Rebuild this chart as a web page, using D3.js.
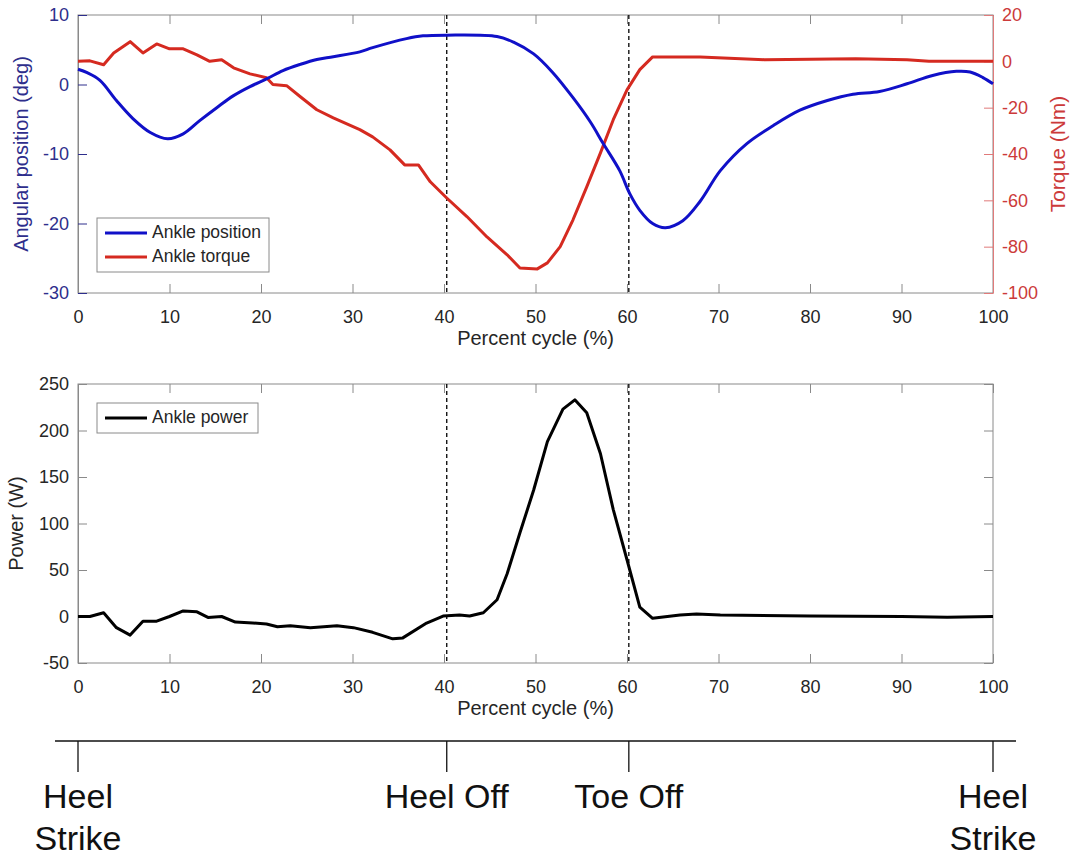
<!DOCTYPE html>
<html>
<head>
<meta charset="utf-8">
<script src="https://cdn.jsdelivr.net/npm/d3@7"></script>
<style>
  body { margin: 0; background: #ffffff; }
  text { font-family: "Liberation Sans", Arial, sans-serif; }
</style>
</head>
<body>
<div id="canvas"></div>
<script>
"use strict"

/* data, percent of the gait cycle */
let positionPct = [0, 1, 2.4, 4.2, 6, 7.9, 9.8, 11.5, 13.3, 15.2, 17, 18.8, 20.6, 22.4, 24.3, 26.1, 27.9, 30.8, 32.2, 35.9, 37.7, 40.3, 45.8, 47.6, 49.8, 51.9, 54.1, 56, 57.4, 59.2, 60.3, 61.4, 62.8, 64.2, 66.1, 68, 70.2, 73.1, 76, 78.9, 81.9, 84.7, 87.6, 90.6, 93.4, 96, 97.5, 98.9, 100];
let positionDeg = [2.2, 1.7, 0.6, -2.3, -4.9, -6.9, -7.8, -7.1, -5.2, -3.3, -1.6, -0.3, 0.8, 2.0, 2.9, 3.6, 4.0, 4.7, 5.3, 6.6, 7.0, 7.1, 6.9, 6.1, 4.4, 1.7, -1.9, -5.4, -8.5, -12.4, -15.7, -18.1, -20, -20.6, -19.6, -16.8, -12.4, -8.5, -5.9, -3.7, -2.3, -1.4, -1.0, 0.1, 1.3, 1.9, 1.8, 1.0, 0.1];

let torquePct = [0, 1.3, 2.8, 3.9, 5.7, 7.1, 8.6, 10, 11.5, 13, 14.4, 15.7, 17, 18.8, 20.6, 21.3, 22.8, 24.3, 26.1, 27.9, 30.8, 32.2, 34.1, 35.7, 37.2, 38.5, 40.3, 42.5, 44.7, 46.9, 48.3, 50.2, 51.3, 52.7, 54.1, 55.6, 57.1, 58.5, 60, 61.4, 62.8, 68, 75, 85, 90.6, 93, 100];
let torqueNm = [0, 0.2, -1.5, 3.6, 8.5, 3.6, 7.5, 5.4, 5.4, 2.8, 0, 0.7, -2.8, -5.4, -7.1, -10, -10.5, -15.3, -20.9, -24.4, -29.5, -32.6, -38.2, -44.7, -44.7, -52, -59, -67, -75.8, -83.5, -89.2, -89.6, -87, -80, -68.4, -54.2, -39.5, -25.2, -12.3, -3.6, 1.9, 1.9, 0.7, 1.1, 0.7, 0, 0];

let powerPct = [0, 1.3, 2.8, 4.2, 5.7, 7.1, 8.6, 10, 11.5, 13, 14.2, 15.7, 17.2, 19.1, 20.6, 21.8, 23.2, 25.4, 28.3, 30.1, 32.2, 34.4, 35.5, 38.1, 39.9, 41.7, 42.8, 44.3, 45.8, 46.9, 48.3, 49.8, 51.3, 53, 54.3, 55.6, 57.1, 58.5, 60, 61.4, 62.8, 65.8, 67.6, 70.2, 80, 90, 95, 100];
let powerW = [0, 0, 4, -12, -20, -5, -5, 0, 6, 5, -1, 0, -6, -7, -8, -11, -10, -12, -10, -12, -17, -24, -23, -7, 0.5, 1.6, 0.5, 4, 18, 46, 90, 136, 188, 223, 233, 219, 175, 115, 61, 10, -2, 1.6, 2.7, 1.6, 0.5, 0, -0.8, 0];

let xTicks = [0, 10, 20, 30, 40, 50, 60, 70, 80, 90, 100];
let positionTicks = [-30, -20, -10, 0, 10];
let torqueTicks = [-100, -80, -60, -40, -20, 0, 20];
let powerTicks = [-50, 0, 50, 100, 150, 200, 250];

/* heel off and toe off lines */
let phasePct = [40.3, 60.2];

/* events on the timeline under the plots */
let eventPct = [0, 40.3, 60.2, 100];
let eventLabels = [["Heel", "Strike"], ["Heel Off"], ["Toe Off"], ["Heel", "Strike"]];

let drawing = d3.select("#canvas")
    .append("svg")
    .attr("width", 1076)
    .attr("height", 856);

let tickColor = "#262626";
let frameColor = "#8a8a8a";
let blue = "#1010c8";
let red = "#d52a20";
let navy = "#2e2e8c";
let axisRed = "#cc3a3a";

/* plain hyphen for negatives, like the original */
let plainNumber = d => String(d);

/* scales, both plots share the same x */
let x = d3.scaleLinear().domain([0, 100]).range([78, 993]);
let yPosition = d3.scaleLinear().domain([-30, 10]).range([293, 15]);
let yTorque = d3.scaleLinear().domain([-100, 20]).range([293, 15]);
let yPower = d3.scaleLinear().domain([-50, 250]).range([663, 384]);

function styleAxis(g, colour) {
    g.selectAll("text")
        .attr("fill", colour)
        .style("font-size", "18px");
    g.selectAll("line").attr("stroke", colour);
}

/* draws the box, the x axis and the dashed phase lines of one plot */
function drawFrame(yTop, yBottom) {
    drawing.append("rect")
        .attr("x", x(0))
        .attr("y", yTop)
        .attr("width", x(100) - x(0))
        .attr("height", yBottom - yTop)
        .attr("fill", "none")
        .attr("stroke", frameColor);

    let bottomAxis = drawing.append("g")
        .attr("transform", "translate(0," + yBottom + ")")
        .call(d3.axisBottom(x).tickValues(xTicks).tickFormat(plainNumber).tickSize(-9).tickPadding(17));
    bottomAxis.select(".domain").remove();
    styleAxis(bottomAxis, tickColor);
    bottomAxis.selectAll("line").attr("stroke", frameColor);

    let topAxis = drawing.append("g")
        .attr("transform", "translate(0," + yTop + ")")
        .call(d3.axisTop(x).tickValues(xTicks).tickSize(-9).tickFormat(""));
    topAxis.select(".domain").remove();
    topAxis.selectAll("line").attr("stroke", frameColor);

    drawing.append("text")
        .attr("x", x(50))
        .attr("y", yBottom + 52)
        .attr("text-anchor", "middle")
        .attr("fill", tickColor)
        .style("font-size", "20px")
        .text("Percent cycle (%)");

    drawing.append("g")
        .selectAll("line")
        .data(phasePct)
        .join("line")
        .attr("x1", d => x(d))
        .attr("x2", d => x(d))
        .attr("y1", yTop)
        .attr("y2", yBottom)
        .attr("stroke", "black")
        .attr("stroke-width", 1.3)
        .attr("stroke-dasharray", "4,3");
}

/* legend box with one row per series */
function drawLegend(left, top, width, rows) {
    let rowHeight = 24;
    drawing.append("rect")
        .attr("x", left)
        .attr("y", top)
        .attr("width", width)
        .attr("height", rows.length * rowHeight + 6)
        .attr("fill", "white")
        .attr("stroke", frameColor);
    let row = drawing.append("g")
        .selectAll("g")
        .data(rows)
        .join("g")
        .attr("transform", (d, i) => "translate(" + left + "," + (top + 15 + i * rowHeight) + ")");
    row.append("line")
        .attr("x1", 8)
        .attr("x2", 50)
        .attr("stroke", d => d.colour)
        .attr("stroke-width", 3);
    row.append("text")
        .attr("x", 55)
        .attr("dominant-baseline", "middle")
        .attr("fill", tickColor)
        .style("font-size", "17.5px")
        .text(d => d.name);
}

/* ---------- top plot: ankle position and torque ---------- */
drawFrame(15, 293);

let leftAxis = drawing.append("g")
    .attr("transform", "translate(" + x(0) + ",0)")
    .call(d3.axisLeft(yPosition).tickValues(positionTicks).tickFormat(plainNumber).tickSize(-9).tickPadding(9));
leftAxis.select(".domain").attr("stroke", frameColor);
styleAxis(leftAxis, navy);

let rightAxis = drawing.append("g")
    .attr("transform", "translate(" + x(100) + ",0)")
    .call(d3.axisRight(yTorque).tickValues(torqueTicks).tickFormat(plainNumber).tickSize(-9).tickSizeOuter(0).tickPadding(9));
rightAxis.select(".domain").attr("stroke", "#e07a7a");
styleAxis(rightAxis, axisRed);
rightAxis.selectAll("line").attr("stroke", "#e07a7a");

drawing.append("text")
    .attr("transform", "translate(23," + yPosition(-10) + ") rotate(-90)")
    .attr("text-anchor", "middle")
    .attr("dominant-baseline", "middle")
    .attr("fill", navy)
    .style("font-size", "20px")
    .text("Angular position (deg)");

drawing.append("text")
    .attr("transform", "translate(1059," + yPosition(-10) + ") rotate(-90)")
    .attr("text-anchor", "middle")
    .attr("dominant-baseline", "middle")
    .attr("fill", axisRed)
    .style("font-size", "21px")
    .text("Torque (Nm)");

let positionLine = d3.line()
    .x((d, i) => x(positionPct[i]))
    .y(d => yPosition(d))
    .curve(d3.curveCatmullRom);

let torqueLine = d3.line()
    .x((d, i) => x(torquePct[i]))
    .y(d => yTorque(d));

drawing.append("path")
    .attr("d", torqueLine(torqueNm))
    .attr("fill", "none")
    .attr("stroke", red)
    .attr("stroke-width", 3)
    .attr("stroke-linejoin", "round");

drawing.append("path")
    .attr("d", positionLine(positionDeg))
    .attr("fill", "none")
    .attr("stroke", blue)
    .attr("stroke-width", 3)
    .attr("stroke-linejoin", "round");

drawLegend(97, 218, 172, [
    {name: "Ankle position", colour: blue},
    {name: "Ankle torque", colour: red}
]);

/* ---------- bottom plot: ankle power ---------- */
drawFrame(384, 663);

let powerAxis = drawing.append("g")
    .attr("transform", "translate(" + x(0) + ",0)")
    .call(d3.axisLeft(yPower).tickValues(powerTicks).tickFormat(plainNumber).tickSize(-9).tickPadding(9));
powerAxis.select(".domain").attr("stroke", frameColor);
styleAxis(powerAxis, tickColor);
powerAxis.selectAll("line").attr("stroke", frameColor);

let powerAxisRight = drawing.append("g")
    .attr("transform", "translate(" + x(100) + ",0)")
    .call(d3.axisRight(yPower).tickValues(powerTicks).tickSize(-9).tickFormat(""));
powerAxisRight.select(".domain").remove();
powerAxisRight.selectAll("line").attr("stroke", frameColor);

drawing.append("text")
    .attr("transform", "translate(18," + yPower(100) + ") rotate(-90)")
    .attr("text-anchor", "middle")
    .attr("dominant-baseline", "middle")
    .attr("fill", tickColor)
    .style("font-size", "20px")
    .text("Power (W)");

let powerLine = d3.line()
    .x((d, i) => x(powerPct[i]))
    .y(d => yPower(d));

drawing.append("path")
    .attr("d", powerLine(powerW))
    .attr("fill", "none")
    .attr("stroke", "black")
    .attr("stroke-width", 3)
    .attr("stroke-linejoin", "round");

drawLegend(97, 403, 161, [
    {name: "Ankle power", colour: "black"}
]);

/* ---------- timeline of gait events ---------- */
drawing.append("line")
    .attr("x1", 55)
    .attr("x2", 1016)
    .attr("y1", 741)
    .attr("y2", 741)
    .attr("stroke", "#111")
    .attr("stroke-width", 1.6);

let events = drawing.append("g")
    .selectAll("g")
    .data(eventPct)
    .join("g")
    .attr("transform", d => "translate(" + x(d) + ",0)");

events.append("line")
    .attr("y1", 741)
    .attr("y2", 772)
    .attr("stroke", "#111")
    .attr("stroke-width", 1.3);

events.each(function (d, i) {
    d3.select(this).selectAll("text")
        .data(eventLabels[i])
        .join("text")
        .attr("y", (t, j) => 808 + j * 42)
        .attr("text-anchor", "middle")
        .attr("fill", "#111")
        .style("font-size", "34px")
        .text(t => t);
});
</script>
</body>
</html>
